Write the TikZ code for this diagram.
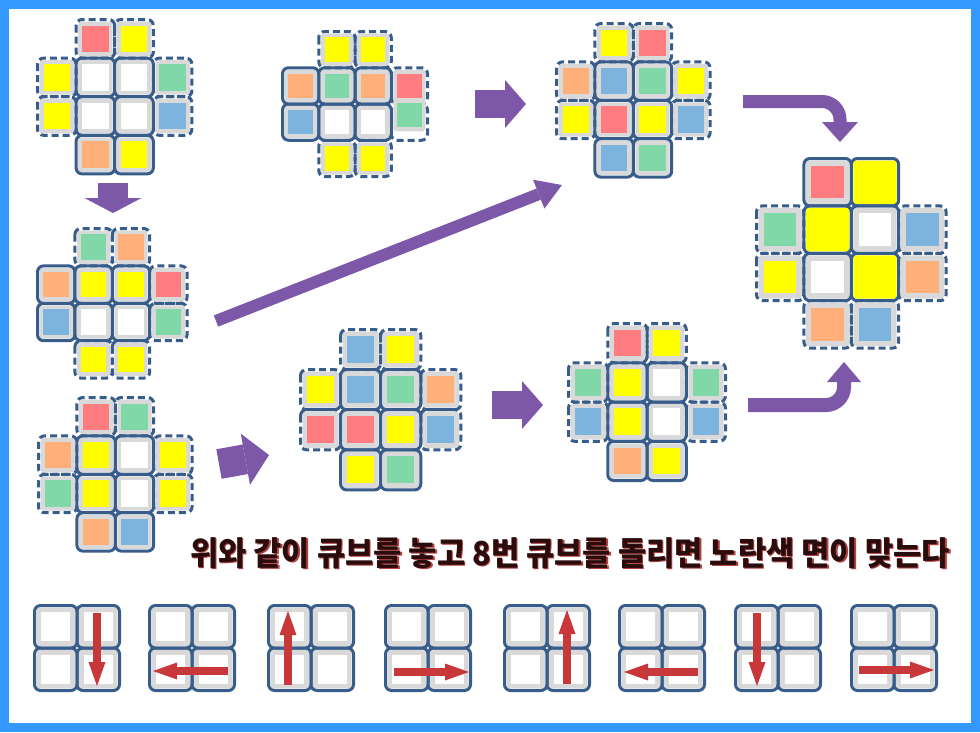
\documentclass[tikz,border=0pt]{standalone}
\usepackage{fontspec}
\newfontfamily\krfont{Noto Sans CJK KR}
\usetikzlibrary{arrows.meta}
\definecolor{cR}{HTML}{FF7C80}
\definecolor{cY}{HTML}{FFFF00}
\definecolor{cG}{HTML}{80D7A7}
\definecolor{cB}{HTML}{7DB4DE}
\definecolor{cO}{HTML}{FFB07A}
\definecolor{rg}{HTML}{D9D9D9}
\definecolor{cborder}{HTML}{385D8A}
\definecolor{frameblue}{HTML}{3399FF}
\definecolor{purp}{HTML}{7D58A8}
\definecolor{redarr}{HTML}{C8383A}
\definecolor{txtdark}{HTML}{2A0C0C}
\definecolor{txtshadow}{HTML}{B44040}
\tikzset{
  ds/.style={dash pattern=on 7pt off 4pt},
  sd/.style={},
  redarrow/.style={draw=redarr, line width=8pt, -{Triangle[width=17pt,length=24pt,line width=0pt]}},
  captext/.style={inner sep=0pt, font=\krfont\bfseries\fontsize{33}{33}\selectfont},
}
\newcommand\cel[6]{%
  \pgfmathsetmacro\cellx{#1}%
  \pgfmathsetmacro\celly{#2}%
  \pgfmathsetmacro\cellp{#3}%
  \pgfmathsetmacro\cellb{0.16*\cellp}%
  \fill[#6, rounded corners=3pt] ({\cellx+2},{\celly+2}) rectangle ({\cellx+\cellp-2},{\celly+\cellp-2});
  \fill[#4] ({\cellx+\cellb},{\celly+\cellb}) rectangle ({\cellx+\cellp-\cellb},{\celly+\cellp-\cellb});
  \draw[cborder, line width=3pt, rounded corners=6pt, #5] (\cellx,\celly) rectangle ({\cellx+\cellp},{\celly+\cellp});
}
\newcommand\crossd[4]{%
  \foreach \qa/\qb/\qc/\qd/\qe in {#4}{\cel{#1+\qa*#3}{#2+\qb*#3}{#3}{\qc}{\qd}{\qe}}%
}
\newcommand\captiontext{위와 같이 큐브를 놓고 8번 큐브를 돌리면 노란색 면이 맞는다}
\begin{document}
\begin{tikzpicture}[x=1pt,y=-1pt]
\useasboundingbox (0,0) rectangle (980,732);
\fill[white] (0,0) rectangle (980,732);
\draw[frameblue, line width=9pt] (4.5,4.5) rectangle (975.5,727.5);

% D1
\crossd{37.5}{19.5}{38.6}{1/0/cR/ds/rg, 2/0/cY/ds/rg, 0/1/cY/ds/rg, 3/1/cG/ds/rg, 0/2/cY/ds/rg, 3/2/cB/ds/rg,
  1/1/white/sd/rg, 2/1/white/sd/rg, 1/2/white/sd/rg, 2/2/white/sd/rg, 1/3/cO/sd/rg, 2/3/cY/sd/rg}
% D2
\crossd{282.5}{31.5}{36.25}{1/0/cY/ds/rg, 2/0/cY/ds/rg, 3/1/cR/ds/rg, 3/2/white/ds/white, 1/3/cY/ds/rg, 2/3/cY/ds/rg,
  0/1/cO/sd/rg, 1/1/cG/sd/rg, 2/1/cO/sd/rg, 0/2/cB/sd/rg, 1/2/white/sd/rg, 2/2/white/sd/rg}
\fill[rg, rounded corners=3pt] (393.25,99) rectangle (425.5,131.25);
\fill[cG] (397.05,102.8) rectangle (421.7,127.45);
% D3
\crossd{556.5}{23.5}{38.4}{1/0/cY/ds/rg, 2/0/cR/ds/rg, 0/1/cO/ds/rg, 3/1/cY/ds/rg, 0/2/cY/ds/rg, 3/2/cB/ds/rg,
  1/1/cB/sd/rg, 2/1/cG/sd/rg, 1/2/cR/sd/rg, 2/2/cY/sd/rg, 1/3/cB/sd/rg, 2/3/cG/sd/rg}
% D4
\crossd{756.5}{158.5}{47.4}{0/1/cG/ds/rg, 3/1/cB/ds/rg, 0/2/cY/ds/rg, 3/2/cO/ds/rg, 1/3/cO/ds/rg, 2/3/cB/ds/rg,
  1/0/cR/sd/rg, 2/0/cY/sd/cY, 1/1/cY/sd/cY, 2/1/white/sd/rg, 1/2/white/sd/rg, 2/2/cY/sd/cY}
% D5
\crossd{37.5}{228.5}{37.4}{1/0/cG/ds/rg, 2/0/cO/ds/rg, 3/1/cR/ds/rg, 3/2/cG/ds/rg, 1/3/cY/ds/rg, 2/3/cY/ds/rg,
  0/1/cO/sd/rg, 1/1/cY/sd/rg, 2/1/cY/sd/rg, 0/2/cB/sd/rg, 1/2/white/sd/rg, 2/2/white/sd/rg}
% D6
\crossd{38.5}{397.5}{38.4}{1/0/cR/ds/rg, 2/0/cG/ds/rg, 0/1/cO/ds/rg, 3/1/cY/ds/rg, 0/2/cG/ds/rg, 3/2/cY/ds/rg,
  1/1/cY/sd/rg, 2/1/white/sd/rg, 1/2/cY/sd/rg, 2/2/white/sd/rg, 1/3/cO/sd/rg, 2/3/cB/sd/rg}
% D7
\crossd{300.5}{329.5}{40.1}{1/0/cB/ds/rg, 2/0/cY/ds/rg, 0/1/cY/ds/rg, 3/1/cO/ds/rg, 0/2/cR/ds/rg, 3/2/cB/ds/rg,
  1/1/cB/sd/rg, 2/1/cG/sd/rg, 1/2/cR/sd/rg, 2/2/cY/sd/rg, 1/3/cY/sd/rg, 2/3/cG/sd/rg}
% D8
\crossd{568.5}{323.5}{39.25}{1/0/cR/ds/rg, 2/0/cY/ds/rg, 0/1/cG/ds/rg, 3/1/cG/ds/rg, 0/2/cB/ds/rg, 3/2/cB/ds/rg,
  1/1/cY/sd/rg, 2/1/white/sd/rg, 1/2/cY/sd/rg, 2/2/white/sd/rg, 1/3/cO/sd/rg, 2/3/cY/sd/rg}

% bottom 2x2 grids
\foreach \gx in {34.5,149.5,268.5,385.5,504.5,619.5,735.5,851.5}{%
  \crossd{\gx}{605.5}{42.5}{0/0/white/sd/rg, 1/0/white/sd/rg, 0/1/white/sd/rg, 1/1/white/sd/rg}}

% purple arrows
\coordinate (p1s) at (113,183); \coordinate (p1e) at (113,213);
\coordinate (p2s) at (475,104); \coordinate (p2e) at (526,104);
\coordinate (p3s) at (216,321); \coordinate (p3e) at (562,185);
\coordinate (p4s) at (219,464); \coordinate (p4e) at (269,455);
\coordinate (p5s) at (492,405); \coordinate (p5e) at (543,405);
\coordinate (p6s) at (743,101.5); \coordinate (p6c) at (840,101.5); \coordinate (p6e) at (840,142);
\coordinate (p7s) at (748,405); \coordinate (p7c) at (844,405); \coordinate (p7e) at (844,362);
\draw[purp, line width=30pt, -{Triangle[width=57pt,length=15pt,line width=0pt]}] (p1s) -- (p1e);
\draw[purp, line width=28pt, -{Triangle[width=48pt,length=21pt,line width=0pt]}] (p2s) -- (p2e);
\draw[purp, line width=12pt, -{Triangle[width=31pt,length=25pt,line width=0pt]}] (p3s) -- (p3e);
\draw[purp, line width=30pt, -{Triangle[width=52pt,length=24pt,line width=0pt]}] (p4s) -- (p4e);
\draw[purp, line width=28pt, -{Triangle[width=48pt,length=21pt,line width=0pt]}] (p5s) -- (p5e);
\draw[purp, line width=13pt, rounded corners=18pt, -{Triangle[width=36pt,length=20pt,line width=0pt]}] (p6s) -- (p6c) -- (p6e);
\draw[purp, line width=14pt, rounded corners=18pt, -{Triangle[width=34pt,length=20pt,line width=0pt]}] (p7s) -- (p7c) -- (p7e);

% red arrows
\coordinate (r1s) at (97,613); \coordinate (r1e) at (97,686);
\coordinate (r2s) at (228,671); \coordinate (r2e) at (153,671);
\coordinate (r3s) at (288,685); \coordinate (r3e) at (288,611);
\coordinate (r4s) at (394,672); \coordinate (r4e) at (469,672);
\coordinate (r5s) at (567,684); \coordinate (r5e) at (567,610);
\coordinate (r6s) at (698,672); \coordinate (r6e) at (624,672);
\coordinate (r7s) at (757,613); \coordinate (r7e) at (757,686);
\coordinate (r8s) at (859,670); \coordinate (r8e) at (934,670);
\foreach \k in {1,...,8}{\draw[redarrow] (r\k s) -- (r\k e);}

% caption
\node[captext, text=txtshadow] (capshadow) at (571.5,554.5) {\scalebox{0.93}[1]{\captiontext}};
\node[captext, text=txtdark] (caption) at (570,553) {\scalebox{0.93}[1]{\captiontext}};
\end{tikzpicture}
\end{document}
